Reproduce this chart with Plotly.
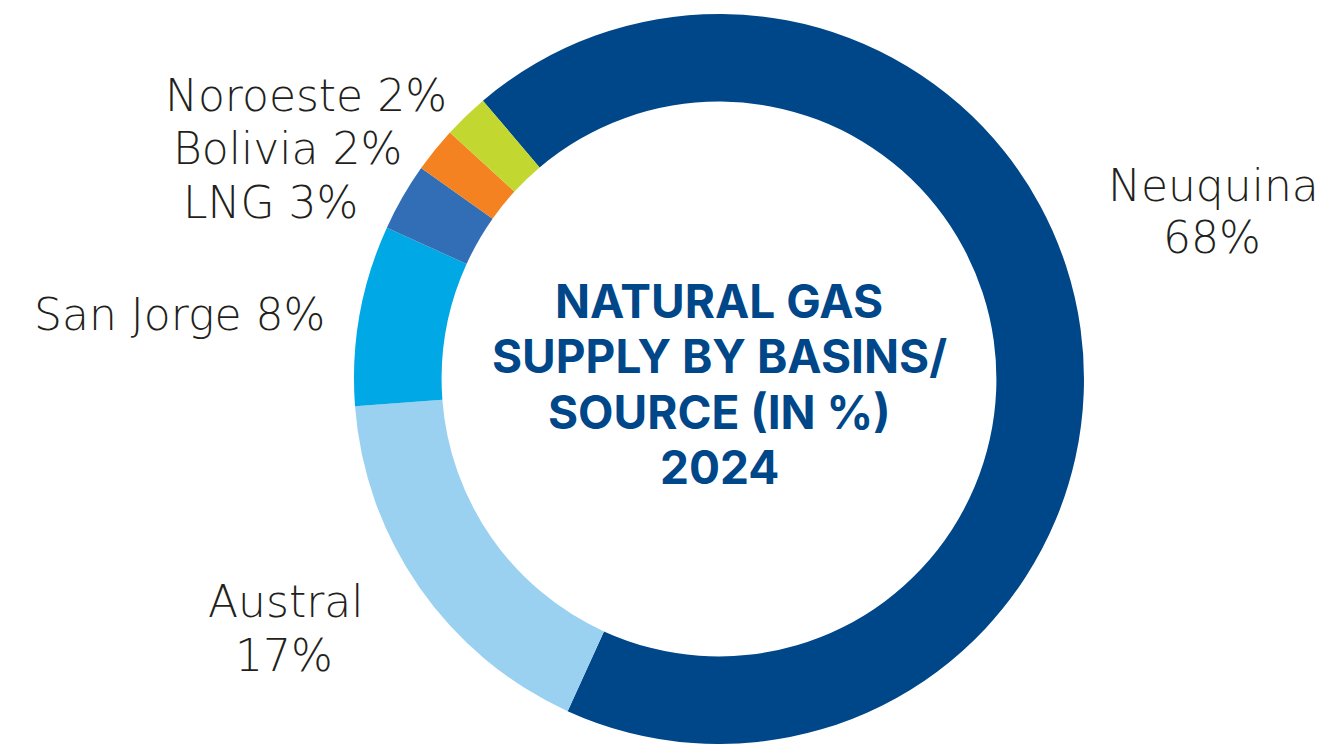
import plotly.graph_objects as go

# Natural gas supply by basin / source, 2024 (percent)
basins = ["Neuquina", "Austral", "San Jorge", "LNG", "Bolivia", "Noroeste"]
shares = [68, 17, 8, 3, 2, 2]
colors = ["#00478A", "#9AD1F0", "#00A9E5", "#326EB6", "#F58220", "#C2D72F"]
title_lines = ["NATURAL GAS", "SUPPLY BY BASINS/", "SOURCE (IN %)", "2024"]

W, H = 1327, 744
cx, cy, R = 719, 379, 365  # ring centre and outer radius in px

fig = go.Figure(
    go.Pie(
        labels=basins,
        values=shares,
        marker=dict(colors=colors, line=dict(width=0)),
        hole=0.76,
        sort=False,
        direction="clockwise",
        rotation=-40.3,
        textinfo="none",
        hoverinfo="label+percent",
        showlegend=False,
        domain=dict(
            x=[(cx - R) / W, (cx + R) / W],
            y=[(H - cy - R) / H, (H - cy + R) / H],
        ),
    )
)

label_font = dict(family="DejaVu Sans", size=44, color="#231F20", weight=200)
title_font = dict(family="Inter", size=46, color="#00478A", weight=700)

# label placement: one entry per text line -> (centre x px, centre y px)
label_pos = {
    "Noroeste": [(306, 95)],
    "Bolivia": [(287, 148)],
    "LNG": [(270, 202)],
    "San Jorge": [(179, 315)],
    "Austral": [(285, 601), (284, 655)],
    "Neuquina": [(1213, 185), (1212, 238)],
}


def text_ann(text, px, py, font):
    return dict(
        text=text,
        x=px / W,
        y=1 - py / H,
        xref="paper",
        yref="paper",
        xanchor="center",
        yanchor="middle",
        showarrow=False,
        font=font,
    )


annotations = []
for name, val in zip(basins, shares):
    spots = label_pos[name]
    if len(spots) == 1:
        lines = [f"{name} {val}%"]
    else:
        lines = [name, f"{val}%"]
    for line, (px, py) in zip(lines, spots):
        annotations.append(text_ann(line, px, py, label_font))

for i, line in enumerate(title_lines):
    annotations.append(text_ann(line, cx, 301 + 55.3 * i, title_font))

fig.update_layout(
    width=W,
    height=H,
    margin=dict(l=0, r=0, t=0, b=0),
    paper_bgcolor="white",
    plot_bgcolor="white",
    annotations=annotations,
)

fig.write_html("out.html")
